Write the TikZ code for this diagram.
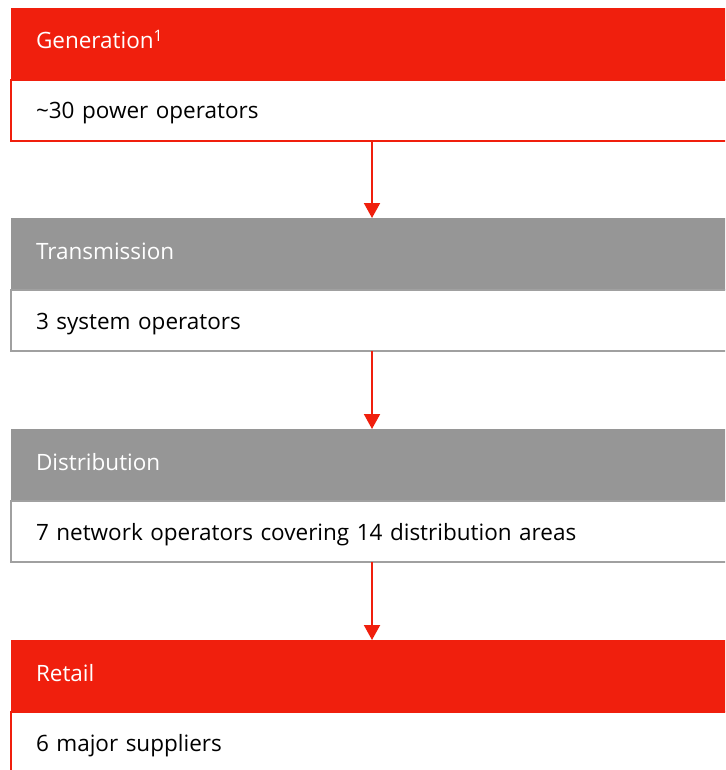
\documentclass[tikz,border=0pt]{standalone}
\usepackage{fontspec}
\setmainfont{Open Sans}
\usetikzlibrary{arrows.meta}
\definecolor{hred}{HTML}{F01F0D}
\definecolor{hgray}{HTML}{969696}
\definecolor{bgray}{HTML}{A0A0A0}
\tikzset{
  hdr/.style={rectangle, anchor=north west, minimum height=72pt, text width=672pt,
    inner xsep=25pt, inner ysep=0pt, outer sep=0pt, align=left, text=white, font=\fontsize{22.5}{27}\selectfont,
    text height=12pt, text depth=2pt},
  bdy/.style={rectangle, anchor=north west, minimum height=61pt, text width=672pt,
    inner xsep=25pt, inner ysep=0pt, outer sep=0pt, align=left, text=black, font=\fontsize{22.5}{27}\selectfont,
    text height=17pt, text depth=0pt, line width=2pt, fill=white},
  redhdr/.style={hdr, fill=hred},
  grayhdr/.style={hdr, fill=hgray},
  redbdy/.style={bdy, draw=hred},
  graybdy/.style={bdy, draw=bgray},
  flow/.style={draw=hred, line width=2pt, -{Triangle[width=16pt,length=15pt]}}
}
\begin{document}
\begin{tikzpicture}[x=1pt,y=-1pt]
\useasboundingbox (0,0) rectangle (725,770);
\clip (0,0) rectangle (725,770);
\fill[white] (0,0) rectangle (725,770);
% block 1
\node[redhdr] (h1) at (11,8) {Generation\textsuperscript{1}};
\node[redbdy] (b1) at (h1.south west) {\textasciitilde30 power operators};
% block 2
\node[grayhdr] (h2) at (11,218) {Transmission};
\node[graybdy] (b2) at (h2.south west) {3 system operators};
% block 3
\node[grayhdr] (h3) at (11,429) {Distribution};
\node[graybdy] (b3) at (h3.south west) {7 network operators covering 14 distribution areas};
% block 4
\node[redhdr] (h4) at (11,640) {Retail};
\node[redbdy] (b4) at (h4.south west) {6 major suppliers};
% arrows
\draw[flow] (b1.south) -- (h2.north);
\draw[flow] (b2.south) -- (h3.north);
\draw[flow] (b3.south) -- (h4.north);
\end{tikzpicture}
\end{document}
